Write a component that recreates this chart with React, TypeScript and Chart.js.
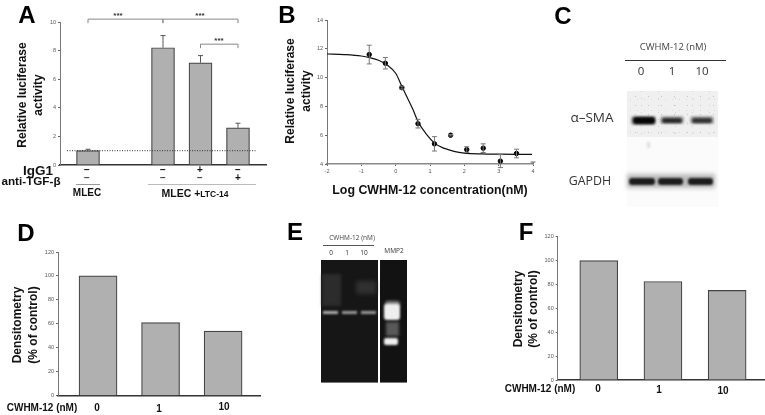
import React, { useEffect, useRef } from "react";
import { Chart, registerables } from "chart.js";

Chart.register(...registerables);

const SANS = '"Liberation Sans", Arial, sans-serif';
const SOFT = '"Open Sans", "Noto Sans", sans-serif';

// Panel A
const activityGroups = ["MLEC", "", "LTC-14", "LTC-14 + IgG1", "LTC-14 + anti-TGF-β"];
const activityValues: (number | null)[] = [1, null, 8.2, 7.15, 2.6];
const activityErrors: (number | null)[] = [0.1, null, 0.85, 0.5, 0.32];
const activityBaseline = [1, 1];
const activityTicks = [0, 2, 4, 6, 8, 10];

// Panel B
const doseLog = [-0.77, -0.3, 0.18, 0.65, 1.13, 1.6, 2.07, 2.55, 3.05, 3.52];
const doseResponse = [11.6, 11.0, 9.3, 6.8, 5.4, 6.0, 5.0, 5.1, 4.2, 4.73];
const doseErrors = [0.65, 0.4, 0.1, 0.3, 0.5, 0.05, 0.2, 0.3, 0.45, 0.3];
const fitLog = [-2, -1.5, -1, -0.75, -0.5, -0.25, 0, 0.18, 0.35, 0.5, 0.65, 0.9, 1.13, 1.4, 1.7, 2, 2.5, 3, 3.5, 3.97];
const fitValues = [11.64, 11.6, 11.5, 11.38, 11.2, 10.88, 10.3, 9.4, 8.55, 7.8, 6.95, 6.05, 5.45, 5.1, 4.88, 4.76, 4.7, 4.68, 4.67, 4.67];

// Panels D and F
const doseLabels = ["0", "1", "10"];
const alphaSmaDensity = [100, 61, 54];
const mmp2Density = [100, 82.5, 75];

const densityTicks = [0, 20, 40, 60, 80, 100, 120];

const tickFont = { family: SANS, size: 5.5 };

function fixedScales(
  xMin: number, xMax: number, yMin: number, yMax: number,
  yStep: number, leftW: number, bottomH: number, showX: boolean,
) {
  return {
    x: {
      type: "linear" as const,
      min: xMin,
      max: xMax,
      offset: false,
      afterFit: (s: any) => { s.height = bottomH; },
      border: { color: showX ? "#888" : "#333", width: 1.5 },
      grid: { display: true, offset: false, drawOnChartArea: false, drawTicks: showX, tickLength: 2, color: "#666" },
      ticks: { display: showX, stepSize: 1, color: "#555", font: tickFont, padding: 2, maxRotation: 0 },
    },
    y: {
      min: yMin,
      max: yMax,
      afterFit: (s: any) => { s.width = leftW; },
      border: { color: "#777", width: 1 },
      grid: { display: true, drawOnChartArea: false, tickLength: 2, color: "#666" },
      ticks: { stepSize: yStep, color: "#555", font: tickFont, padding: 2 },
    },
  };
}

const errorBars = (errs: (number | null)[], both: boolean, color: string) => ({
  id: "errorBars",
  afterDatasetsDraw(chart: any) {
    const { ctx, scales } = chart;
    const ds = chart.data.datasets.find((d: any) => d.hasErrors);
    ctx.save();
    ctx.strokeStyle = color;
    ctx.lineWidth = 1;
    ds.data.forEach((p: any, i: number) => {
      const e = errs[i];
      if (p.y === null || e === null) return;
      const x = scales.x.getPixelForValue(p.x);
      const hi = scales.y.getPixelForValue(p.y + e);
      const lo = scales.y.getPixelForValue(both ? p.y - e : p.y);
      ctx.beginPath();
      ctx.moveTo(x, lo); ctx.lineTo(x, hi);
      ctx.moveTo(x - 2.5, hi); ctx.lineTo(x + 2.5, hi);
      if (both) { ctx.moveTo(x - 2.5, lo); ctx.lineTo(x + 2.5, lo); }
      ctx.stroke();
    });
    ctx.restore();
  },
});

const brackets = (spans: number[][]) => ({
  id: "brackets",
  afterDraw(chart: any) {
    const { ctx, scales } = chart;
    ctx.save();
    ctx.strokeStyle = "#888";
    ctx.lineWidth = 1;
    spans.forEach(([a, b, v]) => {
      const y = scales.y.getPixelForValue(v);
      const xa = scales.x.getPixelForValue(a);
      const xb = scales.x.getPixelForValue(b);
      ctx.beginPath();
      ctx.moveTo(xa, y + 4); ctx.lineTo(xa, y); ctx.lineTo(xb, y); ctx.lineTo(xb, y + 4);
      ctx.stroke();
    });
    ctx.restore();
  },
});

const axisEndCap = {
  id: "axisEndCap",
  afterDraw(chart: any) {
    const { ctx, chartArea } = chart;
    ctx.save();
    ctx.strokeStyle = "#666";
    ctx.beginPath();
    ctx.moveTo(chartArea.right - 2.5, chartArea.bottom - 2);
    ctx.lineTo(chartArea.right + 2.5, chartArea.bottom - 2);
    ctx.moveTo(chartArea.right, chartArea.bottom - 2);
    ctx.lineTo(chartArea.right, chartArea.bottom);
    ctx.stroke();
    ctx.restore();
  },
};

function useChart(makeConfig: () => any) {
  const ref = useRef<HTMLCanvasElement | null>(null);
  useEffect(() => {
    const chart = new Chart(ref.current!, makeConfig());
    return () => chart.destroy();
  }, []);
  return ref;
}

const baseOptions = {
  responsive: false,
  animation: false,
  plugins: { legend: { display: false }, tooltip: { enabled: false } },
};

function densityConfig(values: number[], pad: any) {
  return {
    type: "bar",
    data: {
      datasets: [{
        data: values.map((y, i) => ({ x: i, y })),
        backgroundColor: "#b0b0b0",
        borderColor: "#444",
        borderWidth: 1.2,
        barThickness: 38,
      }],
    },
    options: {
      ...baseOptions,
      layout: { padding: pad },
      scales: fixedScales(-0.64, 2.59, 0, densityTicks[densityTicks.length - 1], 20, pad.leftW, pad.bottomH, false),
    },
  };
}

function T({ x, y, s, b, c, f, rot, children }: any) {
  return (
    <div style={{
      position: "absolute", left: x, top: y,
      transform: `translate(-50%,-50%)${rot ? " rotate(-90deg)" : ""}`,
      fontFamily: f || SANS, fontSize: s, fontWeight: b ? 700 : 400,
      color: c || "#111", whiteSpace: "nowrap", lineHeight: 1, opacity: 0.999,
    }}>{children}</div>
  );
}

function Box({ x, y, w, h, c, blur, r }: any) {
  return (
    <div style={{
      position: "absolute", left: x, top: y, width: w, height: h, background: c,
      borderRadius: r || 0, filter: blur ? `blur(${blur}px)` : undefined,
    }} />
  );
}

const canvasAt = (l: number, t: number) => ({ position: "absolute" as const, left: l, top: t });

export default function App() {
  const aRef = useChart(() => ({
    type: "bar",
    data: {
      labels: activityGroups,
      datasets: [
        {
          type: "line",
          data: activityBaseline.map((y, i) => ({ x: i === 0 ? -0.56 : 4.48, y })),
          borderColor: "#333", borderWidth: 1, borderDash: [1, 1.5], pointRadius: 0, order: 0,
        },
        {
          hasErrors: true,
          data: activityValues.map((y, i) => ({ x: i, y })),
          backgroundColor: "#b0b0b0", borderColor: "#444", borderWidth: 1.2, barThickness: 23, order: 1,
        },
      ],
    },
    options: {
      ...baseOptions,
      layout: { padding: { top: 22, right: 4 } },
      scales: fixedScales(-0.747, 4.747, activityTicks[0], activityTicks[5], 2, 60, 35, false),
    },
    plugins: [errorBars(activityErrors, false, "#555"), brackets([[0, 2, 10.2], [2, 4, 10.2], [3, 4, 8.45]])],
  }));

  const bRef = useChart(() => ({
    type: "scatter",
    data: {
      datasets: [
        {
          data: fitLog.map((x, i) => ({ x, y: fitValues[i] })),
          showLine: true, borderColor: "#111", borderWidth: 1.2, pointRadius: 0,
          cubicInterpolationMode: "monotone",
        },
        {
          hasErrors: true,
          data: doseLog.map((x, i) => ({ x, y: doseResponse[i] })),
          backgroundColor: "#000", borderColor: "#000", pointRadius: 2.2,
        },
      ],
    },
    options: {
      ...baseOptions,
      layout: { padding: { top: 20, right: 17 } },
      scales: fixedScales(-2, 4, 4, 14, 2, 57, 26, true),
    },
    plugins: [errorBars(doseErrors, true, "#777"), axisEndCap],
  }));

  const dRef = useChart(() => densityConfig(alphaSmaDensity, { top: 12, right: 10, leftW: 58, bottomH: 14.3 }));
  const fRef = useChart(() => densityConfig(mmp2Density, { top: 6.7, right: 0, leftW: 47.7, bottomH: 15 }));

  const speckle =
    "radial-gradient(circle, #c4c4c4 0.4px, transparent 0.8px) 2px 1px/13px 9px," +
    "radial-gradient(circle, #d0d0d0 0.4px, transparent 0.8px) 6px 4px/17px 7px," +
    "radial-gradient(circle, #dcdcdc 0.4px, transparent 0.8px) 0 3px/7px 11px," +
    "#f0f0f0";

  return (
    <div style={{ position: "absolute", left: 0, top: 0, width: 765, height: 415, overflow: "hidden", background: "#fff", filter: "blur(0.35px)" }}>
      <canvas ref={aRef} width={270} height={200} style={canvasAt(0, 0)} />
      <canvas ref={bRef} width={280} height={190} style={canvasAt(270, 0)} />
      <canvas ref={dRef} width={270} height={170} style={canvasAt(0, 240)} />
      <canvas ref={fRef} width={255} height={165} style={canvasAt(510, 230)} />

      {/* Panel letters */}
      <T x={27} y={15} s={24} b c="#000">A</T>
      <T x={287} y={15} s={24} b c="#000">B</T>
      <T x={563} y={16} s={24} b c="#000">C</T>
      <T x={26} y={233} s={24} b c="#000">D</T>
      <T x={295} y={232} s={24} b c="#000">E</T>
      <T x={526} y={232} s={24} b c="#000">F</T>

      {/* Panel A text */}
      <T x={22} y={95} s={12} b rot>Relative luciferase</T>
      <T x={38} y={95} s={12} b rot>activity</T>
      <T x={118} y={16} s={8} b c="#333">***</T>
      <T x={200} y={16} s={8} b c="#333">***</T>
      <T x={219} y={41} s={8} b c="#333">***</T>
      <T x={38} y={170.5} s={13.5} b>IgG1</T>
      <T x={31} y={181} s={11.7} b>anti-TGF-β</T>
      <T x={87} y={170} s={10} b>−</T><T x={163} y={170} s={10} b>−</T><T x={200} y={170} s={10} b>+</T><T x={238} y={170} s={10} b>−</T>
      <T x={87} y={178} s={10} b c="#444">−</T><T x={163} y={178} s={10} b c="#444">−</T><T x={200} y={178} s={10} b c="#444">−</T><T x={238} y={178} s={10} b>+</T>
      <Box x={76} y={184} w={24} h={1} c="#999" />
      <Box x={148} y={184} w={108} h={1} c="#bbb" />
      <T x={87} y={193} s={10} b>MLEC</T>
      <T x={195} y={193} s={10.5} b>MLEC +<span style={{ fontSize: 8.5 }}>LTC-14</span></T>

      {/* Panel B text */}
      <T x={290} y={91} s={12} b rot>Relative luciferase</T>
      <T x={306} y={91} s={12} b rot>activity</T>
      <T x={430} y={190} s={12.4} b>Log CWHM-12 concentration(nM)</T>

      {/* Panel C */}
      <T x={673} y={47} s={9.5} f={SOFT} c="#444">CWHM-12 (nM)</T>
      <Box x={625} y={60} w={101} h={1} c="#333" />
      <T x={641} y={71} s={11.5} f={SOFT} c="#333">0</T>
      <T x={672} y={71} s={11.5} f={SOFT} c="#333">1</T>
      <T x={702} y={71} s={11.5} f={SOFT} c="#333">10</T>
      <T x={592} y={118} s={13.5} f={SOFT} c="#333">α–SMA</T>
      <T x={590} y={181} s={12.4} f={SOFT} c="#333">GAPDH</T>
      <div style={{ position: "absolute", left: 627, top: 91, width: 91, height: 46, background: speckle }} />
      <Box x={627} y={137} w={91} h={70} c="#fbfbfb" />
      <Box x={647} y={142} w={3} h={6} c="#ddd" blur={1} />
      <Box x={631} y={116} w={25} h={9} c="#999" blur={1.2} r={3} />
      <Box x={660} y={116} w={24} h={8} c="#aaa" blur={1.2} r={3} />
      <Box x={690} y={116} w={24} h={8} c="#aaa" blur={1.2} r={3} />
      <Box x={633} y={117} w={22} h={7} c="#050505" blur={0.8} r={3} />
      <Box x={662} y={118} w={20} h={5} c="#2a2a2a" blur={0.8} r={3} />
      <Box x={692} y={118} w={20} h={5} c="#333" blur={0.8} r={3} />
      <Box x={627} y={174} w={88} h={14} c="#bbb" blur={2.2} />
      <Box x={629} y={178} w={26} h={7} c="#1c1c1c" blur={1} r={3} />
      <Box x={658} y={178} w={25} h={7} c="#1c1c1c" blur={1} r={3} />
      <Box x={688} y={178} w={25} h={7} c="#1c1c1c" blur={1} r={3} />

      {/* Panel E */}
      <T x={352} y={238} s={6.5} f={SOFT} c="#444">CWHM-12 (nM)</T>
      <Box x={323} y={245} w={51} h={1} c="#555" />
      <T x={331} y={253} s={6.5} f={SOFT} c="#333">0</T>
      <T x={347} y={253} s={6.5} f={SOFT} c="#333">1</T>
      <T x={364} y={253} s={6.5} f={SOFT} c="#333">10</T>
      <T x={394} y={251} s={6.5} f={SOFT} c="#333">MMP2</T>
      <Box x={321} y={260} w={57} h={123} c="#161616" />
      <Box x={380} y={260} w={27} h={123} c="#121212" />
      <Box x={321} y={382} w={57} h={1} c="#777" />
      <Box x={380} y={382} w={27} h={1} c="#777" />
      <Box x={322} y={274} w={19} h={32} c="#2c2c2c" blur={1.5} />
      <Box x={356} y={281} w={20} h={13} c="#303030" blur={2} />
      <Box x={323} y={311} w={15} h={3} c="#b0b0b0" blur={0.8} />
      <Box x={342} y={311} w={15} h={3} c="#9a9a9a" blur={0.8} />
      <Box x={361} y={311} w={15} h={3} c="#9a9a9a" blur={0.8} />
      <Box x={385} y={301} w={15} h={6} c="#888" blur={1.5} r={3} />
      <Box x={384} y={304} w={16} h={16} c="#eeeeee" blur={1} r={3} />
      <Box x={386} y={322} w={13} h={14} c="#585858" blur={1.5} />
      <Box x={384} y={338} w={14} h={7} c="#eeeeee" blur={1} r={2} />

      {/* Panel D text */}
      <T x={42} y={408} s={10} b>CWHM-12 (nM)</T>
      <T x={17} y={325} s={12} b rot>Densitometry</T>
      <T x={33} y={325} s={12} b rot>(% of control)</T>
      <T x={97} y={408} s={10} b>{doseLabels[0]}</T>
      <T x={159} y={409} s={10} b>{doseLabels[1]}</T>
      <T x={224} y={407} s={10} b>{doseLabels[2]}</T>

      {/* Panel F text */}
      <T x={518} y={309} s={12} b rot>Densitometry</T>
      <T x={533} y={309} s={12} b rot>(% of control)</T>
      <T x={540} y={389} s={10} b>CWHM-12 (nM)</T>
      <T x={598} y={389} s={10} b>{doseLabels[0]}</T>
      <T x={659} y={390} s={10} b>{doseLabels[1]}</T>
      <T x={723} y={391} s={10} b>{doseLabels[2]}</T>
    </div>
  );
}
